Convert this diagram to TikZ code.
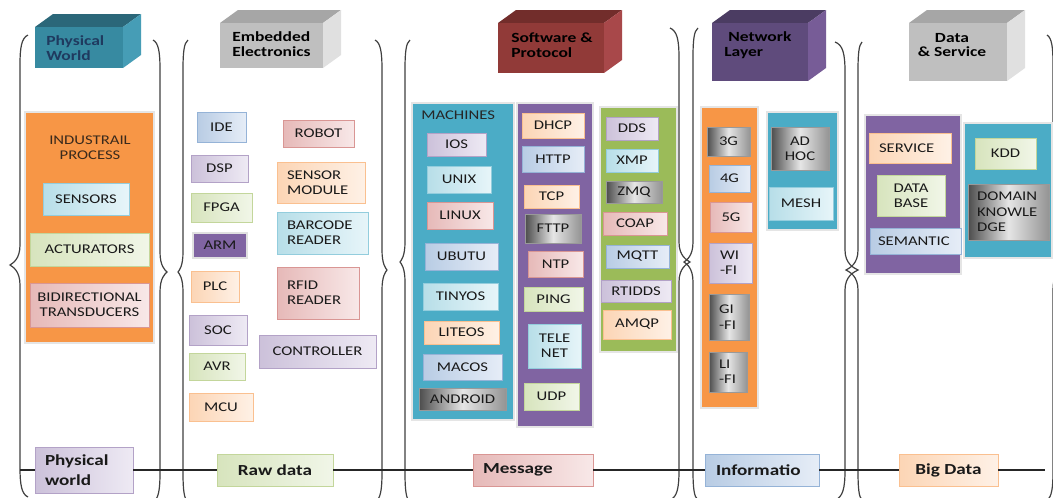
\documentclass[tikz,border=0pt]{standalone}
\usepackage{fontspec}
\setmainfont{Carlito}[FakeStretch=1.25]
\usetikzlibrary{shadows}
\definecolor{blueB}{HTML}{95B3D7}\definecolor{blueL}{HTML}{B8CCE4}\definecolor{blueLL}{HTML}{E6EDF7}
\definecolor{redB}{HTML}{D99694}\definecolor{redL}{HTML}{E6B9B8}\definecolor{redLL}{HTML}{F8E8E8}
\definecolor{greenB}{HTML}{C3D69B}\definecolor{greenL}{HTML}{D7E4BD}\definecolor{greenLL}{HTML}{F1F6E8}
\definecolor{purpB}{HTML}{B3A2C7}\definecolor{purpL}{HTML}{CCC1DA}\definecolor{purpLL}{HTML}{EEEAF4}
\definecolor{aquaB}{HTML}{93CDDD}\definecolor{aquaL}{HTML}{B7DEE8}\definecolor{aquaLL}{HTML}{E7F5F9}
\definecolor{oranB}{HTML}{FAC090}\definecolor{oranL}{HTML}{FCD5B5}\definecolor{oranLL}{HTML}{FEF1E6}
\definecolor{accOr}{HTML}{F79646}\definecolor{accAq}{HTML}{4BACC6}
\definecolor{accPu}{HTML}{8064A2}\definecolor{accGr}{HTML}{9BBB59}
\definecolor{pwF}{HTML}{378AA1}\definecolor{pwT}{HTML}{2B6779}\definecolor{pwS}{HTML}{469DB6}
\definecolor{grF}{HTML}{BFBFBF}\definecolor{grT}{HTML}{A6A6A6}\definecolor{grS}{HTML}{E0E0E0}
\definecolor{spF}{HTML}{913A38}\definecolor{spT}{HTML}{722D2B}\definecolor{spS}{HTML}{A8484A}
\definecolor{nlF}{HTML}{5F4B7C}\definecolor{nlT}{HTML}{4B3C62}\definecolor{nlS}{HTML}{775C97}
\definecolor{navy}{HTML}{1F3A5F}\definecolor{brownish}{HTML}{3A2A1C}
\tikzset{
 bx/.style={draw, line width=0.6pt, inner sep=1pt, outer sep=0pt, align=center, text=black!90,
   font=\fontsize{10}{11.5}\selectfont,
   drop shadow={shadow xshift=0.9pt, shadow yshift=-0.9pt, opacity=0.3}},
 bblue/.style={bx, draw=blueB, left color=blueL, right color=blueLL},
 bred/.style={bx, draw=redB, left color=redL, right color=redLL},
 bgreen/.style={bx, draw=greenB, left color=greenL, right color=greenLL},
 bpurp/.style={bx, draw=purpB, left color=purpL, right color=purpLL},
 baqua/.style={bx, draw=aquaB, left color=aquaL, right color=aquaLL},
 boran/.style={bx, draw=oranB, left color=oranL, right color=oranLL},
 bgray/.style={bx, draw=black!40, left color=black!70, right color=black!42, middle color=black!10},
 barm/.style={bx, draw=black!12, line width=1.5pt, fill=accPu},
 lab/.style={font=\bfseries\fontsize{11.5}{15}\selectfont},
 panel/.style={draw=black!10, line width=1.4pt, outer sep=0pt, inner sep=0pt},
 hdr/.style={font=\bfseries\fontsize{10.5}{11}\selectfont, align=left, inner sep=0pt},
 brc/.style={draw=black!75, line width=0.9pt},
 link/.style={draw=black!85, line width=0.8pt}
}
\newcommand\B[7]{\node[#2, anchor=north west, minimum width={(#5-#3)*0.75pt}, minimum height={(#6-#4)*0.75pt}] (#1) at (#3,#4) {#7};}
\newcommand\BL[8]{\node[#2, anchor=north west, align=left, inner xsep={#7*0.75pt}, text width={(#5-#3-2*#7)*0.75pt}, minimum height={(#6-#4)*0.75pt}] (#1) at (#3,#4) {#8};}
\newcommand\PN[6]{\node[panel, fill=#2, anchor=north west, minimum width={(#5-#3)*0.75pt}, minimum height={(#6-#4)*0.75pt}] (#1) at (#3,#4) {};}
\newcommand\cube[7]{%
 \fill[#6] (#1,#2) -- ({#1+18},{#2-13}) -- ({#3+18},{#2-13}) -- (#3,#2) -- cycle;
 \fill[#7] (#3,#2) -- ({#3+18},{#2-13}) -- ({#3+18},{#4-13}) -- (#3,#4) -- cycle;
 \fill[#5] (#1,#2) rectangle (#3,#4);}
\newcommand\brce[6]{% L, tip, curl, ym, y0, y1
 \draw[brc] ({#1+#3},#5) .. controls ({#1+0.2*#3},{#5+3}) and (#1,{#5+12}) .. (#1,{#5+30})
  -- (#1,{#4-20}) .. controls (#1,{#4-6}) and ({#2+0.3*(#1-#2)},{#4-2}) .. (#2,#4)
  .. controls ({#2+0.3*(#1-#2)},{#4+2}) and (#1,{#4+6}) .. (#1,{#4+20})
  -- (#1,{#6-30}) .. controls (#1,{#6-12}) and ({#1+0.2*#3},{#6-3}) .. ({#1+#3},#6);}
\begin{document}
\begin{tikzpicture}[x=0.75pt,y=-0.75pt]
\useasboundingbox (0,0) rectangle (1053,497);
\fill[white] (0,0) rectangle (1053,497);
% braces
\brce{20}{10}{8}{265}{35}{497}
\brce{160}{167}{-7}{272}{40}{502}
\brce{183}{178}{5}{272}{40}{502}
\brce{382}{387}{-7}{270}{40}{502}
\brce{405}{400}{5}{262}{40}{502}
\brce{679}{690}{-9}{262}{28}{500}
\brce{693}{684}{5}{262}{28}{500}
\brce{845}{858}{-10}{270}{42}{500}
\brce{858}{846}{4}{270}{42}{500}
\brce{1053}{1060}{-6}{270}{35}{500}
% header cubes
\cube{35}{27}{123}{68}{pwF}{pwT}{pwS}
\cube{220}{23}{323}{68}{grF}{grT}{grS}
\cube{498}{23}{604}{73}{spF}{spT}{spS}
\cube{712}{23}{808}{81}{nlF}{nlT}{nlS}
\cube{909}{23}{1007}{81}{grF}{grT}{grS}
\node[hdr, text=navy, anchor=west] (hPW) at (46,48) {Physical\\World};
\node[hdr, anchor=west] (hEE) at (232,44) {Embedded\\Electronics};
\node[hdr, anchor=west] (hSP) at (511,45) {Software \&\\Protocol};
\node[hdr, anchor=west] (hNL) at (724,45) {\hspace*{3pt}Network\\Layer};
\node[hdr, align=center] (hDS) at (952,45) {Data\\\& Service};
% section 1
\PN{p1}{accOr}{25}{112}{154}{343}
\node[font=\fontsize{10}{11.5}\selectfont, text=brownish, align=center] (ind) at (90,148) {INDUSTRAIL\\PROCESS};
\B{sens}{baqua}{43}{183}{129}{215}{SENSORS}
\B{act}{bgreen}{30}{233}{149}{266}{ACTURATORS}
\B{bid}{bred}{30}{283}{149}{327}{BIDIRECTIONAL\\TRANSDUCERS}
% section 2
\B{ide}{bblue}{197}{112}{246}{142}{IDE}
\B{dsp}{bpurp}{191}{155}{248}{182}{DSP}
\B{fpga}{bgreen}{191}{193}{252}{222}{FPGA}
\B{arm}{barm}{193}{233}{247}{258}{ARM}
\B{plc}{boran}{191}{271}{239}{302}{PLC}
\B{soc}{bpurp}{189}{315}{247}{345}{SOC}
\B{avr}{bgreen}{189}{353}{245}{380}{AVR}
\B{mcu}{boran}{189}{393}{253}{421}{MCU}
\B{robot}{bred}{283}{120}{354}{147}{ROBOT}
\BL{senmod}{boran}{277}{162}{365}{203}{10}{SENSOR\\MODULE}
\BL{barcode}{baqua}{277}{212}{368}{254}{10}{BARCODE\\READER}
\BL{rfid}{bred}{277}{267}{359}{319}{10}{RFID\\READER}
\B{ctrl}{bpurp}{259}{335}{376}{368}{CONTROLLER}
% section 3
\PN{pmach}{accAq}{412}{103}{514}{420}
\node[font=\fontsize{10}{11.5}\selectfont, text=black!85, anchor=west, inner sep=0pt] (mach) at (421,115) {MACHINES};
\B{ios}{bpurp}{427}{133}{486}{156}{IOS}
\B{unix}{baqua}{427}{166}{491}{193}{UNIX}
\B{linux}{bred}{427}{202}{493}{229}{LINUX}
\B{ubutu}{bblue}{425}{243}{498}{270}{UBUTU}
\B{tinyos}{baqua}{423}{283}{498}{310}{TINYOS}
\B{liteos}{boran}{424}{321}{499}{344}{LITEOS}
\B{macos}{bblue}{423}{354}{502}{380}{MACOS}
\B{android}{bgray}{419}{388}{506}{410}{ANDROID}
\PN{pproto}{accPu}{517}{103}{593}{427}
\B{dhcp}{boran}{522}{113}{584}{138}{DHCP}
\B{http}{bblue}{522}{146}{584}{172}{HTTP}
\B{tcp}{boran}{524}{185}{579}{208}{TCP}
\B{fttp}{bgray}{525}{214}{581}{243}{FTTP}
\B{ntp}{bred}{528}{251}{583}{277}{NTP}
\B{ping}{bgreen}{524}{287}{583}{311}{PING}
\B{telenet}{baqua}{528}{324}{581}{368}{TELE\\NET}
\B{udp}{bgreen}{524}{383}{579}{410}{UDP}
\PN{pmw}{accGr}{600}{107}{677}{352}
\B{dds}{bpurp}{606}{117}{658}{140}{DDS}
\B{xmp}{baqua}{606}{149}{658}{172}{XMP}
\B{zmq}{bgray}{606}{181}{662}{203}{ZMQ}
\B{coap}{bred}{603}{212}{667}{235}{COAP}
\B{mqtt}{bblue}{606}{245}{669}{268}{MQTT}
\B{rtidds}{bpurp}{601}{280}{671}{302}{RTIDDS}
\B{amqp}{boran}{603}{310}{671}{339}{AMQP}
% section 4
\PN{pnet}{accOr}{701}{107}{758}{408}
\B{g3}{bgray}{707}{127}{750}{156}{3G}
\B{g4}{bblue}{709}{165}{750}{192}{4G}
\B{g5}{bred}{710}{202}{752}{232}{5G}
\BL{wifi}{bpurp}{709}{243}{752}{283}{11}{\mbox{WI}\\\mbox{-FI}}
\BL{gifi}{bgray}{709}{294}{749}{340}{10}{\mbox{GI}\\\mbox{-FI}}
\BL{lifi}{bgray}{709}{352}{747}{392}{10}{\mbox{LI}\\\mbox{-FI}}
\PN{ptop}{accAq}{767}{112}{838}{230}
\B{adhoc}{bgray}{771}{127}{829}{170}{AD\\HOC}
\B{mesh}{baqua}{769}{187}{833}{220}{MESH}
% section 5
\PN{pserv}{accPu}{865}{115}{961}{274}
\BL{service}{boran}{869}{133}{951}{163}{10}{SERVICE}
\B{database}{bgreen}{877}{175}{945}{216}{DATA\\BASE}
\BL{semantic}{bblue}{870}{228}{961}{254}{8}{SEMANTIC}
\PN{pknow}{accAq}{964}{123}{1052}{258}
\B{kdd}{bgreen}{975}{138}{1036}{169}{KDD}
\BL{domain}{bgray}{968}{184}{1049}{240}{9}{DOMAIN\\KNOWLE\\DGE}
% bottom flow
\coordinate (lstart) at (20,470);
\coordinate (lend) at (1045,470);
\BL{pw}{bpurp,lab}{35}{447}{133}{493}{10}{Physical\\world}
\B{raw}{bgreen,lab}{217}{454}{333}{486}{Raw data}
\BL{msg}{bred,lab}{473}{454}{593}{486}{10}{Message}
\BL{inf}{bblue,lab}{705}{454}{819}{486}{11}{Informatio}
\B{bd}{boran,lab}{899}{454}{998}{486}{Big Data}
\draw[link] (lstart) -- (pw);
\draw[link] (pw) -- (raw);
\draw[link] (raw) -- (msg);
\draw[link] (msg) -- (inf);
\draw[link] (inf) -- (bd);
\draw[link] (bd) -- (lend);
\end{tikzpicture}
\end{document}
